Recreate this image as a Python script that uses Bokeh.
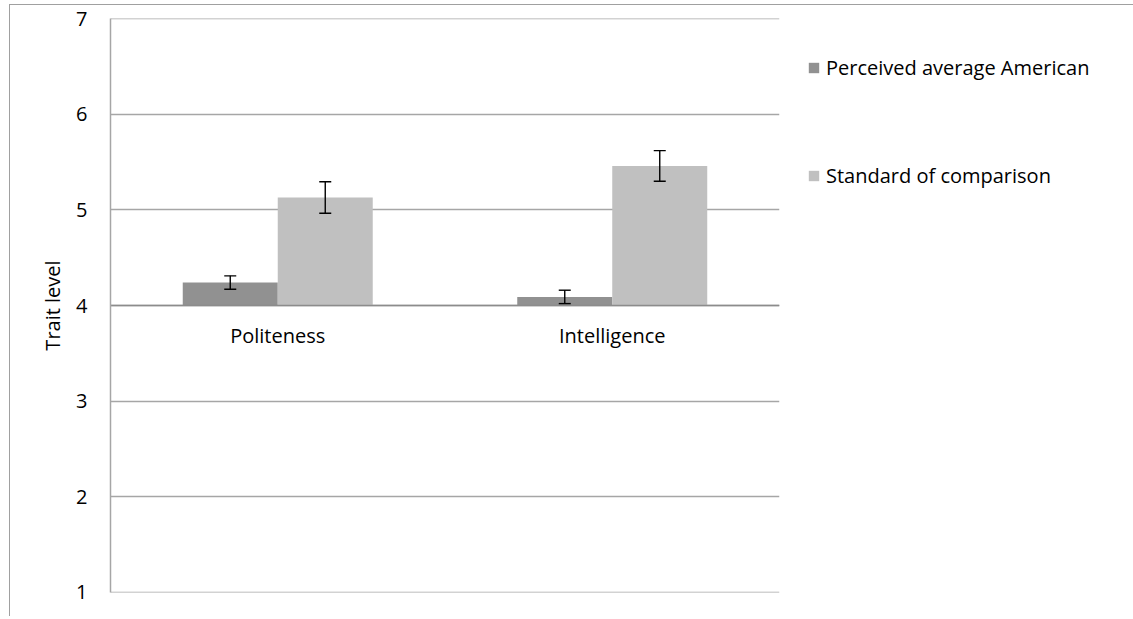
from bokeh.plotting import figure
from bokeh.models import (ColumnDataSource, FactorRange, Range1d, Whisker, TeeHead,
                          Legend, LegendItem, FixedTicker)
from bokeh.transform import dodge
from bokeh.embed import file_html
from bokeh.resources import INLINE

# ---- data ----
categories = ["Politeness", "Intelligence"]
perceived = [4.24, 4.09]
perceived_err = [0.07, 0.07]
standard = [5.13, 5.46]
standard_err = [0.165, 0.16]
y_ticks = [1, 2, 3, 4, 5, 6, 7]
series_names = ["Perceived average American", "Standard of comparison"]

FONT = "Open Sans"
FS = "20px"
DARK = "#919191"
LIGHT = "#c0c0c0"
GRID = "#a6a6a6"
AXIS = "#8c8c8c"

src = ColumnDataSource(dict(
    cat=categories,
    perceived=perceived,
    standard=standard,
    p_lo=[v - e for v, e in zip(perceived, perceived_err)],
    p_hi=[v + e for v, e in zip(perceived, perceived_err)],
    s_lo=[v - e for v, e in zip(standard, standard_err)],
    s_hi=[v + e for v, e in zip(standard, standard_err)],
))

p = figure(x_range=FactorRange(*categories, range_padding=0, factor_padding=0),
           y_range=Range1d(y_ticks[0] - 0.002, y_ticks[-1] + 0.002),
           frame_width=669, frame_height=574,
           min_border_left=100, min_border_top=13, min_border_right=0, min_border_bottom=24,
           output_backend="svg", toolbar_location=None,
           styles={"margin-left": "9px", "margin-top": "4px",
                   "border-left": "1.5px solid #a0a0a0",
                   "border-top": "1.5px solid #a0a0a0"})

p.outline_line_color = None
p.background_fill_color = "white"
p.border_fill_color = "white"

bw = 0.284
r1 = p.vbar(x=dodge("cat", -bw / 2, range=p.x_range), top="perceived", bottom=4,
            width=bw, source=src, fill_color=DARK, line_color=None)
r2 = p.vbar(x=dodge("cat", bw / 2, range=p.x_range), top="standard", bottom=4,
            width=bw, source=src, fill_color=LIGHT, line_color=None)

for off, lo, hi in [(-bw / 2, "p_lo", "p_hi"), (bw / 2, "s_lo", "s_hi")]:
    w = Whisker(base=dodge("cat", off, range=p.x_range), lower=lo, upper=hi, source=src,
                line_color="black", line_width=1.4, level="overlay",
                upper_head=TeeHead(size=12, line_color="black", line_width=1.4),
                lower_head=TeeHead(size=12, line_color="black", line_width=1.4))
    p.add_layout(w)

# y axis
p.yaxis.ticker = FixedTicker(ticks=y_ticks)
p.yaxis.axis_label = "Trait level"
p.yaxis.axis_label_text_font = FONT
p.yaxis.axis_label_text_font_size = FS
p.yaxis.axis_label_text_font_style = "normal"
p.yaxis.axis_label_text_color = "black"
p.yaxis.axis_label_standoff = 7
p.yaxis.major_label_text_font = FONT
p.yaxis.major_label_text_font_size = FS
p.yaxis.major_label_text_color = "black"
p.yaxis.major_label_standoff = 17
p.yaxis.major_tick_line_color = None
p.yaxis.minor_tick_line_color = None
p.yaxis.axis_line_color = GRID
p.yaxis.axis_line_width = 1.5

# category axis crossing at 4
p.xaxis.fixed_location = 4
p.xaxis.axis_line_color = AXIS
p.xaxis.axis_line_width = 1.5
p.xaxis.major_tick_line_color = None
p.xaxis.minor_tick_line_color = None
p.xaxis.major_label_text_font = FONT
p.xaxis.major_label_text_font_size = FS
p.xaxis.major_label_text_color = "black"
p.xaxis.major_label_standoff = 10

p.xgrid.visible = False
p.ygrid.ticker = FixedTicker(ticks=y_ticks)
p.ygrid.grid_line_color = GRID
p.ygrid.grid_line_width = 1.5

legend = Legend(items=[LegendItem(label=series_names[0], renderers=[r1]),
                       LegendItem(label=series_names[1], renderers=[r2])],
                location=(28, 403), orientation="vertical",
                spacing=81, padding=0, margin=0,
                glyph_width=13, glyph_height=13, label_standoff=6,
                border_line_color=None, background_fill_alpha=0,
                label_text_font=FONT, label_text_font_size=FS, label_text_color="black")
p.add_layout(legend, "right")

open("out.html", "w").write(file_html(p, INLINE))
